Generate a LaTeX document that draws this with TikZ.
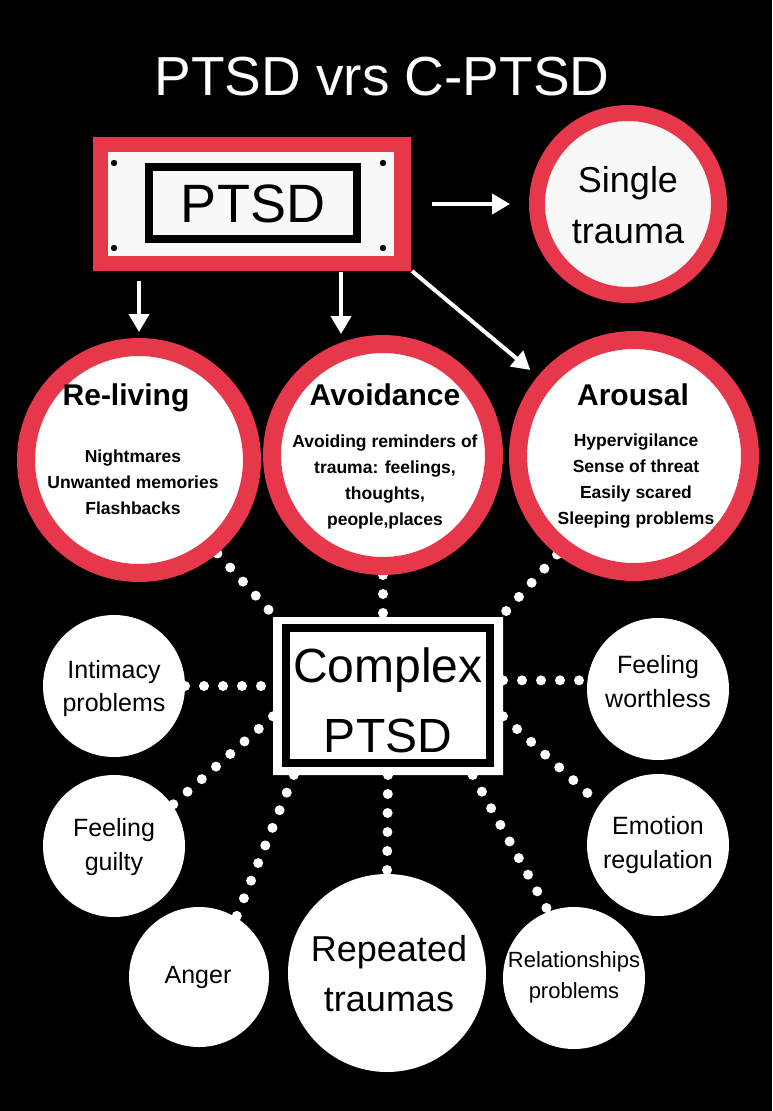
\documentclass[tikz,border=0pt]{standalone}
\usepackage{fontspec}
\setmainfont{Liberation Sans}
\usetikzlibrary{arrows.meta,calc,shapes.misc,backgrounds}
\definecolor{ptsdred}{RGB}{231,55,75}
\definecolor{paper}{RGB}{248,248,248}
\pgfdeclareradialshading{ballw}{\pgfpoint{8bp}{-8bp}}{color(0bp)=(white); color(36bp)=(white); color(58bp)=(white!72!black); color(90bp)=(white!72!black)}
\tikzset{
  ring/.style={circle, draw=ptsdred, line width=18pt, outer sep=9pt, inner sep=0pt, shading=ballw},
  wball/.style={circle, fill=white, inner sep=0pt, outer sep=0pt},
  dotline/.style={draw=white, line width=10pt, line cap=round, dash pattern=on 0pt off 19pt},
  arr/.style={draw=white, line width=4pt, -{Triangle[length=18pt,width=20pt]}},
  ttl/.style={font=\fontsize{30}{36}\selectfont\bfseries, text=black, inner sep=0pt},
  subtxt/.style={font=\fontsize{17.5}{26}\selectfont\bfseries, align=center, text=black, inner sep=0pt},
  smalltxt/.style={font=\fontsize{25}{34}\selectfont, align=center, text=black, inner sep=0pt},
}
\begin{document}
\begin{tikzpicture}[x=1pt,y=-1pt]
\useasboundingbox (0,0) rectangle (772,1111);

% title
\node[text=white, font=\fontsize{55}{60}\selectfont, inner sep=0pt] (title) at (382,77) {PTSD vrs C-PTSD};

% PTSD plate
\node[rectangle, fill=ptsdred, minimum width=318pt, minimum height=134pt, inner sep=0pt, outer sep=0pt] (ptsd) at (252,204) {};
\node[rectangle, fill=paper, minimum width=286pt, minimum height=104pt, inner sep=0pt] (ptsdin) at (251,204) {};
\node[rectangle, draw=black, line width=8pt, minimum width=208pt, minimum height=72pt, inner sep=0pt] (ptsdframe) at (253,203) {};
\node[font=\fontsize{54}{60}\selectfont, inner sep=0pt] (ptsdlbl) at (253,204) {PTSD};
\fill[black] (114,163) circle (3.2) (383,163) circle (3.2) (114,248) circle (3.2) (383,248) circle (3.2);

% single trauma
\node[circle, draw=ptsdred, line width=16pt, fill=paper, minimum size=182pt, outer sep=8pt, inner sep=0pt] (single) at (628,204) {};
\node[font=\fontsize{36}{51}\selectfont, align=center, inner sep=0pt] (singlelbl) at (628,205.5) {Single\\trauma};

% three symptom circles
\node[ring, minimum size=226pt] (reliving) at (139,460) {};
\node[ring, minimum size=222pt] (avoid) at (383,455) {};
\node[ring, minimum size=232pt] (arousal) at (634,456) {};

\node[ttl] (t1) at (126,398) {Re-living};
\node[ttl] (t2) at (385,395) {Avoidance};
\node[ttl] (t3) at (633,395) {Arousal};
\node[subtxt] (s1) at (133,482) {Nightmares\\Unwanted memories\\Flashbacks};
\node[subtxt] (s2) at (385,481.5) {Avoiding reminders of\\trauma: feelings,\\thoughts,\\people,places};
\node[subtxt] (s3) at (636,481.5) {Hypervigilance\\Sense of threat\\Easily scared\\Sleeping problems};

% complex PTSD box
\node[chamfered rectangle, chamfered rectangle xsep=7pt, chamfered rectangle ysep=7pt, fill=white, minimum width=230pt, minimum height=158pt, inner sep=0pt, outer sep=0pt] (cbox) at (388,696) {};
\node[rectangle, draw=black, line width=8pt, fill=white, minimum width=204pt, minimum height=135pt, inner sep=0pt] (cframe) at (388,695.5) {};
\node[font=\fontsize{48}{70}\selectfont, align=center, inner sep=0pt] (clbl) at (388,700) {Complex\\PTSD};

% outer circles
\node[wball, minimum size=142pt] (intim) at (114,686) {};
\node[smalltxt, font=\fontsize{25}{33}\selectfont] (intimlbl) at (114,689) {Intimacy\\problems};
\node[wball, minimum size=142pt] (worth) at (658,689) {};
\node[smalltxt] (worthlbl) at (658,682) {Feeling\\worthless};
\node[wball, minimum size=142pt] (guilty) at (114,846) {};
\node[smalltxt] (guiltylbl) at (114,847.5) {Feeling\\guilty};
\node[wball, minimum size=142pt] (emot) at (658,845) {};
\node[smalltxt] (emotlbl) at (658,845.5) {Emotion\\regulation};
\node[wball, minimum size=140pt] (anger) at (199,977) {};
\node[smalltxt] (angerlbl) at (198,977.5) {Anger};
\node[wball, minimum size=198pt] (repeat) at (387,973) {};
\node[smalltxt, font=\fontsize{36}{50}\selectfont] (repeatlbl) at (389,974) {Repeated\\traumas};
\node[wball, minimum size=142pt] (relat) at (574,978) {};
\node[smalltxt, font=\fontsize{22}{31}\selectfont] (relatlbl) at (574,977.5) {Relationships\\problems};

% arrows
\draw[arr, shorten <=21pt, shorten >=19pt] (ptsd) -- (single);
\draw[arr, shorten <=10pt, shorten >=6pt] (ptsd.south -| reliving.north) -- (reliving.north);
\draw[arr, shorten <=1pt, shorten >=1pt] ([xshift=89pt]ptsd.south) -- ([xshift=-42pt]avoid.north);
\draw[arr] ([xshift=1pt]ptsd.south east) -- ($(ptsd.south east)!0.535!(arousal.center)$);

% dotted connectors behind
\begin{pgfonlayer}{background}
\fill[black] (0,0) rectangle (772,1111);
\draw[dotline] (reliving.-50) -- (cbox.145);
\draw[dotline] (avoid.south) -- (avoid.south |- cbox.north);
\draw[dotline] (arousal.-128) -- (cbox.35);
\draw[dotline] (intim.east) -- (intim.east -| cbox.west);
\draw[dotline] (cbox.east |- worth.173) -- (worth.173);
\draw[dotline] (cbox.190) -- (guilty.35);
\draw[dotline] (cbox.-10) -- (emot.145);
\draw[dotline] (cbox.220) -- (anger.58);
\draw[dotline] (cbox.south) -- (repeat.north);
\draw[dotline] (cbox.-43) -- (relat.111);
\end{pgfonlayer}
\end{tikzpicture}
\end{document}
